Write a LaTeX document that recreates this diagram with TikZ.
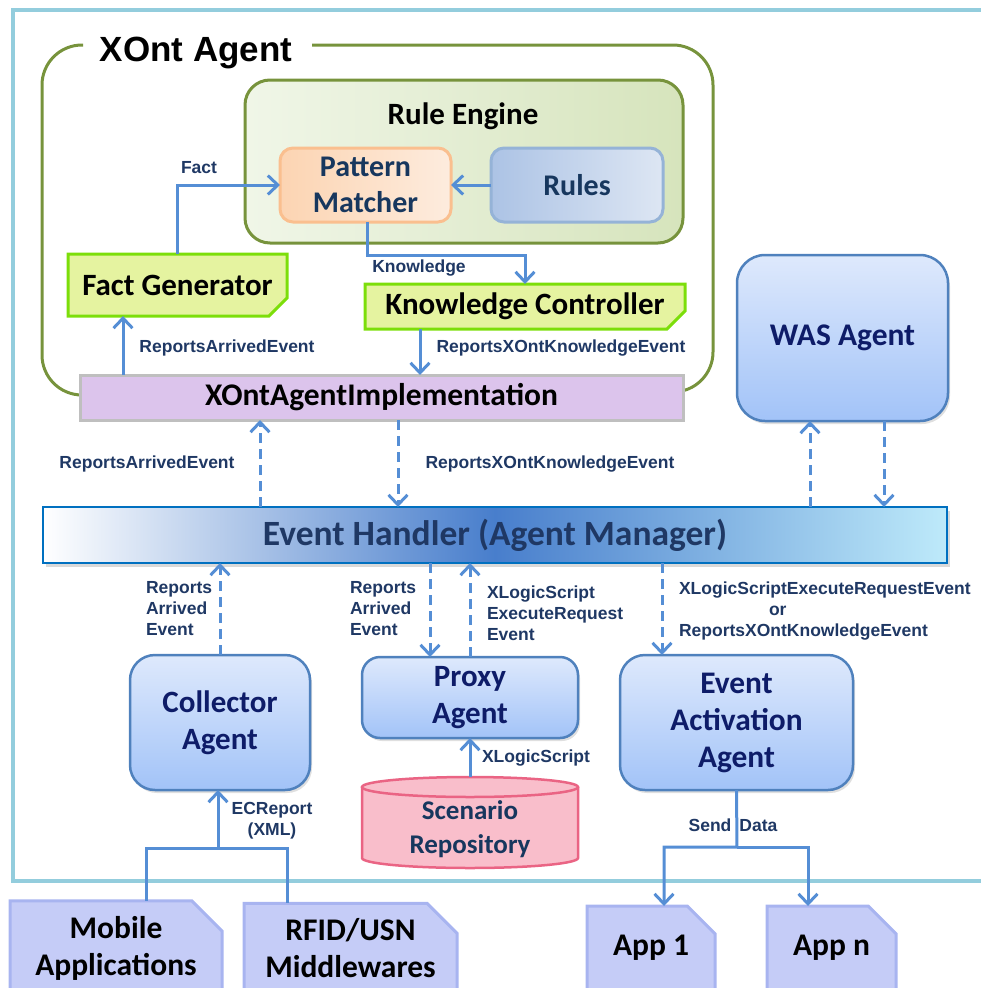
\documentclass[tikz,border=0pt]{standalone}
\usepackage{fontspec}
\setmainfont{Carlito}
\newfontfamily\arialf{Liberation Sans}
\usetikzlibrary{arrows.meta,shapes.misc,shadows}
\definecolor{framecol}{RGB}{147,205,221}
\definecolor{olive}{RGB}{119,147,60}
\definecolor{reL}{RGB}{240,246,232}
\definecolor{reR}{RGB}{214,228,188}
\definecolor{pmborder}{RGB}{250,191,143}
\definecolor{pmL}{RGB}{252,212,178}
\definecolor{pmR}{RGB}{253,236,222}
\definecolor{ruborder}{RGB}{149,179,215}
\definecolor{ruL}{RGB}{172,195,229}
\definecolor{ruR}{RGB}{221,230,243}
\definecolor{fgfill}{RGB}{229,243,160}
\definecolor{fgborder}{RGB}{124,222,10}
\definecolor{implfill}{RGB}{220,196,236}
\definecolor{implborder}{RGB}{191,191,191}
\definecolor{agtop}{RGB}{222,233,252}
\definecolor{agbot}{RGB}{162,195,248}
\definecolor{agborder}{RGB}{79,129,189}
\definecolor{agtext}{RGB}{14,28,104}
\definecolor{ehmid}{RGB}{72,126,204}
\definecolor{ehR}{RGB}{190,234,250}
\definecolor{ehborder}{RGB}{0,112,192}
\definecolor{arrcol}{RGB}{85,142,213}
\definecolor{lblcol}{RGB}{31,56,100}
\definecolor{dtext}{RGB}{23,55,94}
\definecolor{cylfill}{RGB}{249,190,203}
\definecolor{cylborder}{RGB}{234,100,132}
\definecolor{extfill}{RGB}{197,204,247}
\definecolor{extborder}{RGB}{168,180,240}
\begin{document}
\begin{tikzpicture}[x=1pt,y=-1pt,
  every node/.style={inner sep=0pt,outer sep=0pt},
  arr/.style={draw=arrcol,line width=3pt,-{Straight Barb[length=10pt,width=19pt]}},
  darr/.style={arr,dash pattern=on 10pt off 6pt},
  conn/.style={draw=arrcol,line width=3pt},
  lbl/.style={font=\arialf\bfseries\fontsize{17.5}{21}\selectfont,text=lblcol,align=left},
  agent/.style={draw=agborder,line width=2.5pt,rounded corners=25pt,top color=agtop,bottom color=agbot,
    text=agtext,align=center,font=\bfseries\fontsize{31}{37}\selectfont,
    drop shadow={shadow xshift=2pt,shadow yshift=-3pt,opacity=0.25}},
  greenbox/.style={chamfered rectangle,chamfered rectangle corners=south east,
    chamfered rectangle xsep=9pt,chamfered rectangle ysep=9pt,
    draw=fgborder,line width=3pt,fill=fgfill,font=\bfseries\fontsize{31}{37}\selectfont},
  extbox/.style={chamfered rectangle,chamfered rectangle corners=north east,
    chamfered rectangle xsep=15pt,chamfered rectangle ysep=15pt,
    draw=extborder,line width=3pt,fill=extfill,align=center,font=\bfseries\fontsize{31.5}{37}\selectfont},
]
\useasboundingbox (0,0) rectangle (981,988);
\clip (0,0) rectangle (981,988);
% outer frame
\draw[framecol,line width=3.5pt] (13,10) rectangle (1010,881);
% XOnt agent frame
\draw[olive,line width=3pt,rounded corners=40pt] (83,45) -- (42,45) -- (42,395) -- (82,395);
\draw[olive,line width=3pt,rounded corners=40pt] (312,45) -- (713,45) -- (713,392) -- (682,392);
\node[font=\arialf\bfseries\fontsize{35}{40}\selectfont] (xtitle) at (196,53) {XOnt Agent};
% Rule engine
\node[draw=olive,line width=3pt,rounded corners=25pt,left color=reL,right color=reR,
  minimum width=438pt,minimum height=163pt] (re) at (464,161.5) {};
\node[font=\bfseries\fontsize{31}{36}\selectfont] (retitle) at (463,116) {Rule Engine};
\node[draw=pmborder,line width=3pt,rounded corners=13pt,left color=pmL,right color=pmR,
  minimum width=171pt,minimum height=74pt,align=center,text=dtext,
  font=\bfseries\fontsize{30}{36}\selectfont] (pm) at (365.5,185) {Pattern\\Matcher};
\node[draw=ruborder,line width=3pt,rounded corners=13pt,left color=ruL,right color=ruR,
  minimum width=172pt,minimum height=74pt,text=dtext,
  font=\bfseries\fontsize{30}{36}\selectfont] (rules) at (577,185) {Rules};
\node[greenbox,minimum width=219pt,minimum height=62pt] (fg) at (177.5,285) {Fact Generator};
\node[greenbox,minimum width=320pt,minimum height=43pt] (kc) at (525,306.5) {Knowledge Controller};
\node[draw=implborder,line width=3pt,fill=implfill,minimum width=603pt,minimum height=45pt,
  font=\bfseries\fontsize{31.5}{36}\selectfont] (impl) at (381.5,397.5) {XOntAgentImplementation};
% WAS agent
\node[agent,rounded corners=28pt,minimum width=211pt,minimum height=166pt,
  font=\bfseries\fontsize{31.5}{37}\selectfont] (was) at (842.5,338) {WAS Agent};
% Event handler
\node[draw=ehborder,line width=2pt,left color=white,right color=ehR,middle color=ehmid,
  minimum width=904pt,minimum height=56pt,text=lblcol,
  font=\bfseries\fontsize{35.5}{40}\selectfont,
  drop shadow={shadow xshift=3pt,shadow yshift=-4pt,opacity=0.3}] (eh) at (495,535) {Event Handler (Agent Manager)};
% lower agents
\node[agent,minimum width=180pt,minimum height=135pt] (coll) at (220,722.5) {Collector\\Agent};
\node[agent,rounded corners=18pt,minimum width=216pt,minimum height=81pt] (proxy) at (470,697.5) {Proxy\\Agent};
\node[agent,minimum width=233pt,minimum height=135pt,font=\bfseries\fontsize{31.4}{37}\selectfont] (eaa) at (736.5,722.5) {Event\\Activation\\Agent};
% cylinder
\path[fill=cylfill,draw=cylborder,line width=2.5pt] (362,787) -- (362,858)
  arc[start angle=180,end angle=0,x radius=108,y radius=10] -- (578,787);
\draw[fill=cylfill,draw=cylborder,line width=2.5pt] (470,787) ellipse[x radius=108,y radius=10];
\coordinate (cyltop) at (470,777);
\node[align=center,text=dtext,font=\bfseries\fontsize{27}{34}\selectfont] (scen) at (470,829) {Scenario\\Repository};
% external boxes
\node[extbox,minimum width=212pt,minimum height=84pt] (mob) at (116,948) {Mobile\\Applications};
\node[extbox,minimum width=213pt,minimum height=84pt] (rfid) at (350.5,948) {RFID/USN\\Middlewares};
\node[extbox,minimum width=128pt,minimum height=84pt] (app1) at (651,948) {App 1};
\node[extbox,minimum width=129pt,minimum height=84pt] (appn) at (831.5,948) {App n};
% guide coordinates
\coordinate (x123) at (123,0);
\coordinate (x420) at (420,0);
\coordinate (x260) at (260,0);
\coordinate (x398) at (398,0);
\coordinate (x810) at (810,0);
\coordinate (x884) at (884,0);
\coordinate (x430) at (430,0);
\coordinate (x662) at (662,0);
\coordinate (x664) at (664,0);
\coordinate (x808) at (808,0);
\coordinate (x146) at (146,0);
\coordinate (x287) at (287,0);
\coordinate (kn) at (367,255);
\coordinate (jn) at (218,848);
\coordinate (sd) at (737,847);
% inner connectors
\draw[arr] (rules.west) -- (pm.east);
\draw[arr] (fg.north) |- (pm.west);
\draw[arr] (pm.south -| kn) -- (kn) -| (kc.north);
\draw[arr] (impl.north -| x123) -- (fg.south -| x123);
\draw[arr] (kc.south -| x420) -- (impl.north -| x420);
% event handler connectors
\draw[darr] (eh.north -| x260) -- (impl.south -| x260);
\draw[darr] (impl.south -| x398) -- (eh.north -| x398);
\draw[darr] (eh.north -| x810) -- (was.south -| x810);
\draw[darr] (was.south -| x884) -- (eh.north -| x884);
\draw[darr] (coll.north) -- (eh.south -| coll.north);
\draw[darr] (eh.south -| x430) -- (proxy.north -| x430);
\draw[darr] (proxy.north) -- (eh.south -| proxy.north);
\draw[darr] (eh.south -| x662) -- (eaa.north -| x662);
\draw[arr] (cyltop) -- (proxy.south);
% data flows
\draw[conn] (mob.north -| x146) -- (x146 |- jn) -- (x287 |- jn) -- (rfid.north -| x287);
\draw[arr] (jn) -- (coll.south -| jn);
\draw[arr] (eaa.south) -- (sd) -| (app1.north -| x664);
\draw[arr] (sd) -| (appn.north -| x808);
% labels
\node[lbl] (lfact) at (199,168) {Fact};
\node[lbl] (lknow) at (419,268) {Knowledge};
\node[lbl] (lrae1) at (227,348) {ReportsArrivedEvent};
\node[lbl] (lrxk1) at (561,348) {ReportsXOntKnowledgeEvent};
\node[lbl] (lrae2) at (147,464) {ReportsArrivedEvent};
\node[lbl] (lrxk2) at (550,464) {ReportsXOntKnowledgeEvent};
\node[lbl,anchor=west] (lrae3) at (146,609) {Reports\\Arrived\\Event};
\node[lbl,anchor=west] (lrae4) at (350,609) {Reports\\Arrived\\Event};
\node[lbl,anchor=west] (lxer) at (487,613) {XLogicScript\\ExecuteRequest\\Event};
\node[lbl,anchor=west] (lor) at (679,611) {XLogicScriptExecuteRequestEvent\\\hspace*{90pt}or\\ReportsXOntKnowledgeEvent};
\node[lbl] (lxls) at (536,758) {XLogicScript};
\node[lbl,align=center] (lecr) at (272,821) {ECReport\\(XML)};
\node[lbl] (lsend) at (733,825) {Send\hspace{8pt}Data};
\end{tikzpicture}
\end{document}
